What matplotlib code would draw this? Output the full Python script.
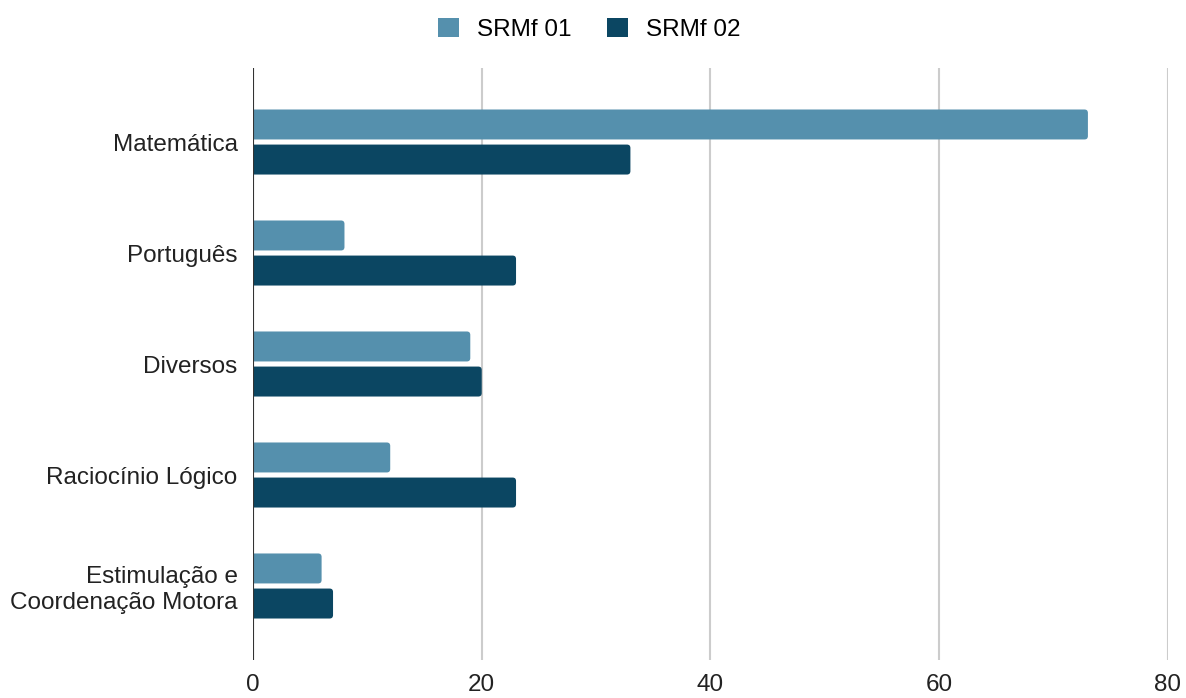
# barras horizontais SRMf 01 x SRMf 02
import matplotlib
matplotlib.use('Agg')
import matplotlib.pyplot as plt
from matplotlib.patches import FancyBboxPatch, Patch

plt.rcParams['font.family'] = ['Liberation Sans', 'DejaVu Sans']

categorias = ['Matemática', 'Português', 'Diversos', 'Raciocínio Lógico',
              'Estimulação e\nCoordenação Motora']
srmf_01 = [73, 8, 19, 12, 6]
srmf_02 = [33, 23, 20, 23, 7]
x_ticks = [0, 20, 40, 60, 80]

cor_01 = '#5590ad'
cor_02 = '#0b4662'

fig = plt.figure(figsize=(11.86, 6.98), dpi=100)
ax = fig.add_axes([0.2133, 0.0544, 0.7715, 0.8482])

pos = list(range(len(categorias)))
h = 0.27
off = 0.158
b1 = ax.barh([p - off for p in pos], srmf_01, height=h, color=cor_01, zorder=3)
b2 = ax.barh([p + off for p in pos], srmf_02, height=h, color=cor_02, zorder=3)

ax.set_xlim(0, 80)
ax.set_ylim(len(categorias) - 1 + 0.667, -0.667)

# cantos arredondados na ponta das barras (o lado esquerdo fica cortado pelo eixo)
r = 0.3  # em unidades do eixo x
aspect = (1 / 111) / (80 / 915)
for bars, cor in ((b1, cor_01), (b2, cor_02)):
    for b in bars:
        x, y, w, hh = b.get_x(), b.get_y(), b.get_width(), b.get_height()
        b.set_visible(False)
        ax.add_patch(FancyBboxPatch((x - r, y), w + r, hh,
                                    boxstyle='round,pad=0,rounding_size=%f' % r,
                                    mutation_aspect=aspect, fc=cor, ec='none', zorder=3))

ax.set_yticks(pos)
ax.set_yticklabels(categorias, fontsize=17.5, color='#222222')
ax.set_xticks(x_ticks)
ax.set_xticklabels([str(t) for t in x_ticks], fontsize=17.5, color='#222222')
ax.tick_params(length=0)
ax.tick_params(axis='y', pad=11)
ax.tick_params(axis='x', pad=10)

ax.grid(axis='x', color='#cccccc', linewidth=1.5, zorder=0)
ax.axvline(0, color='#333333', linewidth=1.5, zorder=4)
for s in ax.spines.values():
    s.set_visible(False)

handles = [Patch(fc=cor_01, label='SRMf 01'), Patch(fc=cor_02, label='SRMf 02')]
fig.legend(handles=handles, loc='upper center', bbox_to_anchor=(0.497, 1.006), ncol=2,
           frameon=False, fontsize=17.5, handlelength=0.85, handleheight=0.85,
           columnspacing=1.45, handletextpad=0.75)

fig.savefig('out.png', dpi=100)
